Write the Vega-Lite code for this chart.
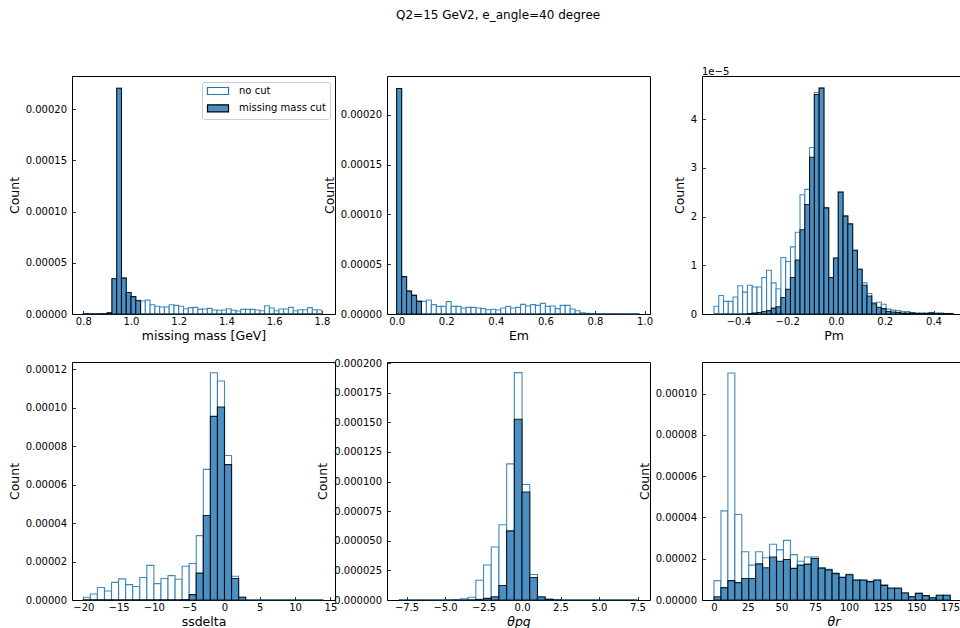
{
  "$schema": "https://vega.github.io/schema/vega-lite/v6.json",
  "padding": {"left": 7, "top": 8, "right": 0, "bottom": 0},
  "title": {"text": "Q2=15 GeV2, e_angle=40 degree", "anchor": "start", "frame": "group", "dx": 324, "offset": 45, "fontSize": 12, "fontWeight": "normal", "font": "DejaVu Sans", "color": "#000"},
  "config": {
    "font": "DejaVu Sans",
    "view": {"stroke": "#000", "strokeWidth": 1},
    "axis": {"domain": false, "grid": false, "ticks": true, "tickColor": "#000", "tickWidth": 0.8, "tickSize": -3.5, "labelFontSize": 10, "labelColor": "#000", "labelFont": "DejaVu Sans", "titleFont": "DejaVu Sans", "titleFontSize": 12.5, "titleFontWeight": "normal", "titleColor": "#000", "labelFlush": false, "labelOverlap": false},
    "axisX": {"labelPadding": 6, "titlePadding": 3},
    "axisY": {"labelPadding": 9, "titlePadding": 4}
  },
  "datasets": {
    "mm": [
      {"x0": 0.80, "x1": 0.82, "no cut": 2e-7, "missing mass cut": 2e-7},
      {"x0": 0.82, "x1": 0.84, "no cut": 1e-7, "missing mass cut": 1e-7},
      {"x0": 0.84, "x1": 0.86, "no cut": 1e-7, "missing mass cut": 1e-7},
      {"x0": 0.86, "x1": 0.88, "no cut": 2e-7, "missing mass cut": 2e-7},
      {"x0": 0.88, "x1": 0.90, "no cut": 3e-7, "missing mass cut": 3e-7},
      {"x0": 0.90, "x1": 0.92, "no cut": 1.2e-6, "missing mass cut": 1.1e-6},
      {"x0": 0.92, "x1": 0.94, "no cut": 3.44e-5, "missing mass cut": 3.44e-5},
      {"x0": 0.94, "x1": 0.96, "no cut": 2.205e-4, "missing mass cut": 2.205e-4},
      {"x0": 0.96, "x1": 0.98, "no cut": 3.5e-5, "missing mass cut": 3.5e-5},
      {"x0": 0.98, "x1": 1.00, "no cut": 2.1e-5, "missing mass cut": 2.1e-5},
      {"x0": 1.00, "x1": 1.02, "no cut": 1.7e-5, "missing mass cut": 1.7e-5},
      {"x0": 1.02, "x1": 1.04, "no cut": 1.33e-5, "missing mass cut": 1.3e-5},
      {"x0": 1.04, "x1": 1.06, "no cut": 1.27e-5, "missing mass cut": 0},
      {"x0": 1.06, "x1": 1.08, "no cut": 1.36e-5, "missing mass cut": 0},
      {"x0": 1.08, "x1": 1.10, "no cut": 9.1e-6, "missing mass cut": 0},
      {"x0": 1.10, "x1": 1.12, "no cut": 7.5e-6, "missing mass cut": 0},
      {"x0": 1.12, "x1": 1.14, "no cut": 6.8e-6, "missing mass cut": 0},
      {"x0": 1.14, "x1": 1.16, "no cut": 6.8e-6, "missing mass cut": 0},
      {"x0": 1.16, "x1": 1.18, "no cut": 9.1e-6, "missing mass cut": 0},
      {"x0": 1.18, "x1": 1.20, "no cut": 8.4e-6, "missing mass cut": 0},
      {"x0": 1.20, "x1": 1.22, "no cut": 7.5e-6, "missing mass cut": 0},
      {"x0": 1.22, "x1": 1.24, "no cut": 5.2e-6, "missing mass cut": 0},
      {"x0": 1.24, "x1": 1.26, "no cut": 6.2e-6, "missing mass cut": 0},
      {"x0": 1.26, "x1": 1.28, "no cut": 6.5e-6, "missing mass cut": 0},
      {"x0": 1.28, "x1": 1.30, "no cut": 4.5e-6, "missing mass cut": 0},
      {"x0": 1.30, "x1": 1.32, "no cut": 4.9e-6, "missing mass cut": 0},
      {"x0": 1.32, "x1": 1.34, "no cut": 5.5e-6, "missing mass cut": 0},
      {"x0": 1.34, "x1": 1.36, "no cut": 3.9e-6, "missing mass cut": 0},
      {"x0": 1.36, "x1": 1.38, "no cut": 3.6e-6, "missing mass cut": 0},
      {"x0": 1.38, "x1": 1.40, "no cut": 3.9e-6, "missing mass cut": 0},
      {"x0": 1.40, "x1": 1.42, "no cut": 5.2e-6, "missing mass cut": 0},
      {"x0": 1.42, "x1": 1.44, "no cut": 3.6e-6, "missing mass cut": 0},
      {"x0": 1.44, "x1": 1.46, "no cut": 2.9e-6, "missing mass cut": 0},
      {"x0": 1.46, "x1": 1.48, "no cut": 4.5e-6, "missing mass cut": 0},
      {"x0": 1.48, "x1": 1.50, "no cut": 4.5e-6, "missing mass cut": 0},
      {"x0": 1.50, "x1": 1.52, "no cut": 4.5e-6, "missing mass cut": 0},
      {"x0": 1.52, "x1": 1.54, "no cut": 3.9e-6, "missing mass cut": 0},
      {"x0": 1.54, "x1": 1.56, "no cut": 3.2e-6, "missing mass cut": 0},
      {"x0": 1.56, "x1": 1.58, "no cut": 8.1e-6, "missing mass cut": 0},
      {"x0": 1.58, "x1": 1.60, "no cut": 5.8e-6, "missing mass cut": 0},
      {"x0": 1.60, "x1": 1.62, "no cut": 3.2e-6, "missing mass cut": 0},
      {"x0": 1.62, "x1": 1.64, "no cut": 4.9e-6, "missing mass cut": 0},
      {"x0": 1.64, "x1": 1.66, "no cut": 4.9e-6, "missing mass cut": 0},
      {"x0": 1.66, "x1": 1.68, "no cut": 6.5e-6, "missing mass cut": 0},
      {"x0": 1.68, "x1": 1.70, "no cut": 3.2e-6, "missing mass cut": 0},
      {"x0": 1.70, "x1": 1.72, "no cut": 4.2e-6, "missing mass cut": 0},
      {"x0": 1.72, "x1": 1.74, "no cut": 4.2e-6, "missing mass cut": 0},
      {"x0": 1.74, "x1": 1.76, "no cut": 6.2e-6, "missing mass cut": 0},
      {"x0": 1.76, "x1": 1.78, "no cut": 4.2e-6, "missing mass cut": 0},
      {"x0": 1.78, "x1": 1.80, "no cut": 3.9e-6, "missing mass cut": 0}
    ],
    "em": [
      {"x0": 0.00, "x1": 0.02, "no cut": 2.265e-4, "missing mass cut": 2.265e-4},
      {"x0": 0.02, "x1": 0.04, "no cut": 3.75e-5, "missing mass cut": 3.75e-5},
      {"x0": 0.04, "x1": 0.06, "no cut": 2.3e-5, "missing mass cut": 2.3e-5},
      {"x0": 0.06, "x1": 0.08, "no cut": 1.87e-5, "missing mass cut": 1.87e-5},
      {"x0": 0.08, "x1": 0.10, "no cut": 1.3e-5, "missing mass cut": 1.27e-5},
      {"x0": 0.10, "x1": 0.12, "no cut": 1.27e-5, "missing mass cut": 0},
      {"x0": 0.12, "x1": 0.14, "no cut": 1.4e-5, "missing mass cut": 0},
      {"x0": 0.14, "x1": 0.16, "no cut": 9.4e-6, "missing mass cut": 0},
      {"x0": 0.16, "x1": 0.18, "no cut": 7.7e-6, "missing mass cut": 0},
      {"x0": 0.18, "x1": 0.20, "no cut": 7.7e-6, "missing mass cut": 0},
      {"x0": 0.20, "x1": 0.22, "no cut": 1.24e-5, "missing mass cut": 0},
      {"x0": 0.22, "x1": 0.24, "no cut": 7.7e-6, "missing mass cut": 0},
      {"x0": 0.24, "x1": 0.26, "no cut": 7.7e-6, "missing mass cut": 0},
      {"x0": 0.26, "x1": 0.28, "no cut": 6.0e-6, "missing mass cut": 0},
      {"x0": 0.28, "x1": 0.30, "no cut": 6.7e-6, "missing mass cut": 0},
      {"x0": 0.30, "x1": 0.32, "no cut": 6.7e-6, "missing mass cut": 0},
      {"x0": 0.32, "x1": 0.34, "no cut": 6.0e-6, "missing mass cut": 0},
      {"x0": 0.34, "x1": 0.36, "no cut": 5.4e-6, "missing mass cut": 0},
      {"x0": 0.36, "x1": 0.38, "no cut": 4.3e-6, "missing mass cut": 0},
      {"x0": 0.38, "x1": 0.40, "no cut": 4.7e-6, "missing mass cut": 0},
      {"x0": 0.40, "x1": 0.42, "no cut": 4.0e-6, "missing mass cut": 0},
      {"x0": 0.42, "x1": 0.44, "no cut": 6.0e-6, "missing mass cut": 0},
      {"x0": 0.44, "x1": 0.46, "no cut": 7.7e-6, "missing mass cut": 0},
      {"x0": 0.46, "x1": 0.48, "no cut": 6.0e-6, "missing mass cut": 0},
      {"x0": 0.48, "x1": 0.50, "no cut": 6.7e-6, "missing mass cut": 0},
      {"x0": 0.50, "x1": 0.52, "no cut": 9.7e-6, "missing mass cut": 0},
      {"x0": 0.52, "x1": 0.54, "no cut": 8.0e-6, "missing mass cut": 0},
      {"x0": 0.54, "x1": 0.56, "no cut": 9.4e-6, "missing mass cut": 0},
      {"x0": 0.56, "x1": 0.58, "no cut": 8.7e-6, "missing mass cut": 0},
      {"x0": 0.58, "x1": 0.60, "no cut": 1.07e-5, "missing mass cut": 0},
      {"x0": 0.60, "x1": 0.62, "no cut": 7.7e-6, "missing mass cut": 0},
      {"x0": 0.62, "x1": 0.64, "no cut": 8.0e-6, "missing mass cut": 0},
      {"x0": 0.64, "x1": 0.66, "no cut": 5.4e-6, "missing mass cut": 0},
      {"x0": 0.66, "x1": 0.68, "no cut": 8.7e-6, "missing mass cut": 0},
      {"x0": 0.68, "x1": 0.70, "no cut": 8.7e-6, "missing mass cut": 0},
      {"x0": 0.70, "x1": 0.72, "no cut": 5.0e-6, "missing mass cut": 0},
      {"x0": 0.72, "x1": 0.74, "no cut": 3.3e-6, "missing mass cut": 0},
      {"x0": 0.74, "x1": 0.76, "no cut": 1.3e-6, "missing mass cut": 0},
      {"x0": 0.76, "x1": 0.78, "no cut": 7e-7, "missing mass cut": 0},
      {"x0": 0.78, "x1": 0.80, "no cut": 3e-7, "missing mass cut": 0},
      {"x0": 0.80, "x1": 0.82, "no cut": 2e-7, "missing mass cut": 0},
      {"x0": 0.82, "x1": 0.84, "no cut": 2e-7, "missing mass cut": 0},
      {"x0": 0.84, "x1": 0.86, "no cut": 1e-7, "missing mass cut": 0},
      {"x0": 0.86, "x1": 0.88, "no cut": 1e-7, "missing mass cut": 0},
      {"x0": 0.88, "x1": 0.90, "no cut": 1e-7, "missing mass cut": 0},
      {"x0": 0.90, "x1": 0.92, "no cut": 1e-7, "missing mass cut": 0},
      {"x0": 0.92, "x1": 0.94, "no cut": 1e-7, "missing mass cut": 0},
      {"x0": 0.94, "x1": 0.96, "no cut": 5e-8, "missing mass cut": 0},
      {"x0": 0.96, "x1": 0.98, "no cut": 5e-8, "missing mass cut": 0}
    ],
    "pm": [
      {"x0": -0.5, "x1": -0.4804, "no cut": 1.6e-6, "missing mass cut": 0},
      {"x0": -0.4804, "x1": -0.4608, "no cut": 3.8e-6, "missing mass cut": 0},
      {"x0": -0.4608, "x1": -0.4412, "no cut": 2.6e-6, "missing mass cut": 0},
      {"x0": -0.4412, "x1": -0.4216, "no cut": 2.6e-6, "missing mass cut": 0},
      {"x0": -0.4216, "x1": -0.402, "no cut": 3.5e-6, "missing mass cut": 0},
      {"x0": -0.402, "x1": -0.3824, "no cut": 5.8e-6, "missing mass cut": 0},
      {"x0": -0.3824, "x1": -0.3628, "no cut": 4.5e-6, "missing mass cut": 0},
      {"x0": -0.3628, "x1": -0.3432, "no cut": 5.9e-6, "missing mass cut": 1e-7},
      {"x0": -0.3432, "x1": -0.3236, "no cut": 5.55e-6, "missing mass cut": 2e-7},
      {"x0": -0.3236, "x1": -0.304, "no cut": 5.55e-6, "missing mass cut": 3e-7},
      {"x0": -0.304, "x1": -0.2844, "no cut": 7.5e-6, "missing mass cut": 5e-7},
      {"x0": -0.2844, "x1": -0.2648, "no cut": 9.0e-6, "missing mass cut": 7e-7},
      {"x0": -0.2648, "x1": -0.2452, "no cut": 6.4e-6, "missing mass cut": 1.2e-6},
      {"x0": -0.2452, "x1": -0.2256, "no cut": 5.2e-6, "missing mass cut": 1.5e-6},
      {"x0": -0.2256, "x1": -0.206, "no cut": 1.16e-5, "missing mass cut": 3.4e-6},
      {"x0": -0.206, "x1": -0.1864, "no cut": 1.08e-5, "missing mass cut": 5.1e-6},
      {"x0": -0.1864, "x1": -0.1668, "no cut": 1.38e-5, "missing mass cut": 7.5e-6},
      {"x0": -0.1668, "x1": -0.1472, "no cut": 1.68e-5, "missing mass cut": 1.11e-5},
      {"x0": -0.1472, "x1": -0.1276, "no cut": 2.45e-5, "missing mass cut": 1.73e-5},
      {"x0": -0.1276, "x1": -0.108, "no cut": 2.56e-5, "missing mass cut": 2.25e-5},
      {"x0": -0.108, "x1": -0.0884, "no cut": 3.42e-5, "missing mass cut": 3.22e-5},
      {"x0": -0.0884, "x1": -0.0688, "no cut": 4.55e-5, "missing mass cut": 4.51e-5},
      {"x0": -0.0688, "x1": -0.0492, "no cut": 4.64e-5, "missing mass cut": 4.64e-5},
      {"x0": -0.0492, "x1": -0.0296, "no cut": 2.18e-5, "missing mass cut": 2.18e-5},
      {"x0": -0.0296, "x1": -0.01, "no cut": 7.5e-6, "missing mass cut": 7.5e-6},
      {"x0": -0.01, "x1": 0.0096, "no cut": 1.15e-5, "missing mass cut": 1.15e-5},
      {"x0": 0.0096, "x1": 0.0292, "no cut": 2.51e-5, "missing mass cut": 2.5e-5},
      {"x0": 0.0292, "x1": 0.0488, "no cut": 2.02e-5, "missing mass cut": 2.01e-5},
      {"x0": 0.0488, "x1": 0.0684, "no cut": 1.86e-5, "missing mass cut": 1.85e-5},
      {"x0": 0.0684, "x1": 0.088, "no cut": 1.31e-5, "missing mass cut": 1.31e-5},
      {"x0": 0.088, "x1": 0.1076, "no cut": 9.2e-6, "missing mass cut": 9.2e-6},
      {"x0": 0.1076, "x1": 0.1272, "no cut": 6.4e-6, "missing mass cut": 5.9e-6},
      {"x0": 0.1272, "x1": 0.1468, "no cut": 4.2e-6, "missing mass cut": 3.7e-6},
      {"x0": 0.1468, "x1": 0.1664, "no cut": 2.3e-6, "missing mass cut": 2.1e-6},
      {"x0": 0.1664, "x1": 0.186, "no cut": 2.4e-6, "missing mass cut": 1.4e-6},
      {"x0": 0.186, "x1": 0.2056, "no cut": 2.0e-6, "missing mass cut": 1.1e-6},
      {"x0": 0.2056, "x1": 0.2252, "no cut": 1.0e-6, "missing mass cut": 5e-7},
      {"x0": 0.2252, "x1": 0.2448, "no cut": 8e-7, "missing mass cut": 4e-7},
      {"x0": 0.2448, "x1": 0.2644, "no cut": 7e-7, "missing mass cut": 3e-7},
      {"x0": 0.2644, "x1": 0.284, "no cut": 5e-7, "missing mass cut": 2e-7},
      {"x0": 0.284, "x1": 0.3036, "no cut": 5e-7, "missing mass cut": 2e-7},
      {"x0": 0.3036, "x1": 0.3232, "no cut": 3e-7, "missing mass cut": 2e-7},
      {"x0": 0.3232, "x1": 0.3428, "no cut": 2e-7, "missing mass cut": 1e-7},
      {"x0": 0.3428, "x1": 0.3624, "no cut": 2e-7, "missing mass cut": 1e-7},
      {"x0": 0.3624, "x1": 0.382, "no cut": 2e-7, "missing mass cut": 1e-7},
      {"x0": 0.382, "x1": 0.4016, "no cut": 3e-7, "missing mass cut": 2e-7},
      {"x0": 0.4016, "x1": 0.4212, "no cut": 2e-7, "missing mass cut": 1e-7},
      {"x0": 0.4212, "x1": 0.4408, "no cut": 2e-7, "missing mass cut": 1e-7},
      {"x0": 0.4408, "x1": 0.4604, "no cut": 1e-7, "missing mass cut": 1e-7},
      {"x0": 0.4604, "x1": 0.48, "no cut": 1e-7, "missing mass cut": 1e-7}
    ],
    "ss": [
      {"x0": -20, "x1": -19, "no cut": 1.4e-6, "missing mass cut": 1e-7},
      {"x0": -19, "x1": -18, "no cut": 3.1e-6, "missing mass cut": 1e-7},
      {"x0": -18, "x1": -17, "no cut": 6.5e-6, "missing mass cut": 1e-7},
      {"x0": -17, "x1": -16, "no cut": 4.7e-6, "missing mass cut": 1e-7},
      {"x0": -16, "x1": -15, "no cut": 9.2e-6, "missing mass cut": 1e-7},
      {"x0": -15, "x1": -14, "no cut": 1.1e-5, "missing mass cut": 1e-7},
      {"x0": -14, "x1": -13, "no cut": 8.0e-6, "missing mass cut": 1e-7},
      {"x0": -13, "x1": -12, "no cut": 7.0e-6, "missing mass cut": 1e-7},
      {"x0": -12, "x1": -11, "no cut": 1.17e-5, "missing mass cut": 1e-7},
      {"x0": -11, "x1": -10, "no cut": 1.8e-5, "missing mass cut": 1e-7},
      {"x0": -10, "x1": -9, "no cut": 8.5e-6, "missing mass cut": 1e-7},
      {"x0": -9, "x1": -8, "no cut": 1.12e-5, "missing mass cut": 1e-7},
      {"x0": -8, "x1": -7, "no cut": 1.27e-5, "missing mass cut": 1e-7},
      {"x0": -7, "x1": -6, "no cut": 1.08e-5, "missing mass cut": 1e-7},
      {"x0": -6, "x1": -5, "no cut": 1.76e-5, "missing mass cut": 2e-7},
      {"x0": -5, "x1": -4, "no cut": 1.9e-5, "missing mass cut": 2.8e-6},
      {"x0": -4, "x1": -3, "no cut": 3.35e-5, "missing mass cut": 1.4e-5},
      {"x0": -3, "x1": -2, "no cut": 6.8e-5, "missing mass cut": 4.4e-5},
      {"x0": -2, "x1": -1, "no cut": 1.183e-4, "missing mass cut": 9.56e-5},
      {"x0": -1, "x1": 0, "no cut": 1.14e-4, "missing mass cut": 1.005e-4},
      {"x0": 0, "x1": 1, "no cut": 7.52e-5, "missing mass cut": 7.05e-5},
      {"x0": 1, "x1": 2, "no cut": 1.24e-5, "missing mass cut": 1.12e-5},
      {"x0": 2, "x1": 3, "no cut": 1.4e-6, "missing mass cut": 1.4e-6},
      {"x0": 3, "x1": 4, "no cut": 0, "missing mass cut": 0},
      {"x0": 4, "x1": 5, "no cut": 0, "missing mass cut": 0},
      {"x0": 5, "x1": 6, "no cut": 0, "missing mass cut": 0},
      {"x0": 6, "x1": 7, "no cut": 0, "missing mass cut": 0},
      {"x0": 7, "x1": 8, "no cut": 0, "missing mass cut": 0},
      {"x0": 8, "x1": 9, "no cut": 0, "missing mass cut": 0},
      {"x0": 9, "x1": 10, "no cut": 0, "missing mass cut": 0},
      {"x0": 10, "x1": 11, "no cut": 0, "missing mass cut": 0},
      {"x0": 11, "x1": 12, "no cut": 0, "missing mass cut": 0},
      {"x0": 12, "x1": 13, "no cut": 0, "missing mass cut": 0},
      {"x0": 13, "x1": 14, "no cut": 0, "missing mass cut": 0}
    ],
    "pq": [
      {"x0": -8.0, "x1": -7.5, "no cut": 0, "missing mass cut": 0},
      {"x0": -7.5, "x1": -7.0, "no cut": 0, "missing mass cut": 0},
      {"x0": -7.0, "x1": -6.5, "no cut": 0, "missing mass cut": 0},
      {"x0": -6.5, "x1": -6.0, "no cut": 0, "missing mass cut": 0},
      {"x0": -6.0, "x1": -5.5, "no cut": 0, "missing mass cut": 0},
      {"x0": -5.5, "x1": -5.0, "no cut": 0, "missing mass cut": 0},
      {"x0": -5.0, "x1": -4.5, "no cut": 1e-7, "missing mass cut": 0},
      {"x0": -4.5, "x1": -4.0, "no cut": 3e-7, "missing mass cut": 0},
      {"x0": -4.0, "x1": -3.5, "no cut": 1.0e-6, "missing mass cut": 0},
      {"x0": -3.5, "x1": -3.0, "no cut": 2.3e-6, "missing mass cut": 1e-7},
      {"x0": -3.0, "x1": -2.5, "no cut": 1.67e-5, "missing mass cut": 5e-7},
      {"x0": -2.5, "x1": -2.0, "no cut": 2.95e-5, "missing mass cut": 1.4e-6},
      {"x0": -2.0, "x1": -1.5, "no cut": 4.48e-5, "missing mass cut": 2.8e-6},
      {"x0": -1.5, "x1": -1.0, "no cut": 6.35e-5, "missing mass cut": 1.22e-5},
      {"x0": -1.0, "x1": -0.5, "no cut": 1.15e-4, "missing mass cut": 5.84e-5},
      {"x0": -0.5, "x1": 0.0, "no cut": 1.92e-4, "missing mass cut": 1.527e-4},
      {"x0": 0.0, "x1": 0.5, "no cut": 9.75e-5, "missing mass cut": 9.12e-5},
      {"x0": 0.5, "x1": 1.0, "no cut": 2.15e-5, "missing mass cut": 1.9e-5},
      {"x0": 1.0, "x1": 1.5, "no cut": 2.8e-6, "missing mass cut": 2.5e-6},
      {"x0": 1.5, "x1": 2.0, "no cut": 8e-7, "missing mass cut": 5e-7},
      {"x0": 2.0, "x1": 2.5, "no cut": 2e-7, "missing mass cut": 1e-7},
      {"x0": 2.5, "x1": 3.0, "no cut": 0, "missing mass cut": 0},
      {"x0": 3.0, "x1": 3.5, "no cut": 0, "missing mass cut": 0},
      {"x0": 3.5, "x1": 4.0, "no cut": 0, "missing mass cut": 0},
      {"x0": 4.0, "x1": 4.5, "no cut": 0, "missing mass cut": 0},
      {"x0": 4.5, "x1": 5.0, "no cut": 0, "missing mass cut": 0},
      {"x0": 5.0, "x1": 5.5, "no cut": 0, "missing mass cut": 0},
      {"x0": 5.5, "x1": 6.0, "no cut": 0, "missing mass cut": 0},
      {"x0": 6.0, "x1": 6.5, "no cut": 0, "missing mass cut": 0},
      {"x0": 6.5, "x1": 7.0, "no cut": 0, "missing mass cut": 0},
      {"x0": 7.0, "x1": 7.5, "no cut": 0, "missing mass cut": 0}
    ],
    "tr": [
      {"x0": 0, "x1": 5.147, "no cut": 9.4e-6, "missing mass cut": 1.6e-6},
      {"x0": 5.147, "x1": 10.294, "no cut": 4.32e-5, "missing mass cut": 6.0e-6},
      {"x0": 10.294, "x1": 15.441, "no cut": 1.10e-4, "missing mass cut": 9.4e-6},
      {"x0": 15.441, "x1": 20.588, "no cut": 4.14e-5, "missing mass cut": 8.4e-6},
      {"x0": 20.588, "x1": 25.735, "no cut": 2.34e-5, "missing mass cut": 1.04e-5},
      {"x0": 25.735, "x1": 30.882, "no cut": 1.69e-5, "missing mass cut": 1.04e-5},
      {"x0": 30.882, "x1": 36.029, "no cut": 2.34e-5, "missing mass cut": 1.75e-5},
      {"x0": 36.029, "x1": 41.176, "no cut": 2.05e-5, "missing mass cut": 1.56e-5},
      {"x0": 41.176, "x1": 46.324, "no cut": 2.7e-5, "missing mass cut": 2.08e-5},
      {"x0": 46.324, "x1": 51.471, "no cut": 2.43e-5, "missing mass cut": 1.88e-5},
      {"x0": 51.471, "x1": 56.618, "no cut": 2.89e-5, "missing mass cut": 1.96e-5},
      {"x0": 56.618, "x1": 61.765, "no cut": 2.2e-5, "missing mass cut": 1.53e-5},
      {"x0": 61.765, "x1": 66.912, "no cut": 1.88e-5, "missing mass cut": 1.69e-5},
      {"x0": 66.912, "x1": 72.059, "no cut": 2.08e-5, "missing mass cut": 1.74e-5},
      {"x0": 72.059, "x1": 77.206, "no cut": 2.08e-5, "missing mass cut": 2.01e-5},
      {"x0": 77.206, "x1": 82.353, "no cut": 1.57e-5, "missing mass cut": 1.54e-5},
      {"x0": 82.353, "x1": 87.5, "no cut": 1.49e-5, "missing mass cut": 1.46e-5},
      {"x0": 87.5, "x1": 92.647, "no cut": 1.3e-5, "missing mass cut": 1.28e-5},
      {"x0": 92.647, "x1": 97.794, "no cut": 1.11e-5, "missing mass cut": 1.09e-5},
      {"x0": 97.794, "x1": 102.941, "no cut": 1.24e-5, "missing mass cut": 1.22e-5},
      {"x0": 102.941, "x1": 108.088, "no cut": 9.8e-6, "missing mass cut": 9.6e-6},
      {"x0": 108.088, "x1": 113.235, "no cut": 9.8e-6, "missing mass cut": 9.6e-6},
      {"x0": 113.235, "x1": 118.382, "no cut": 9.1e-6, "missing mass cut": 8.9e-6},
      {"x0": 118.382, "x1": 123.529, "no cut": 9.8e-6, "missing mass cut": 9.6e-6},
      {"x0": 123.529, "x1": 128.676, "no cut": 7.3e-6, "missing mass cut": 7.1e-6},
      {"x0": 128.676, "x1": 133.824, "no cut": 5.8e-6, "missing mass cut": 5.7e-6},
      {"x0": 133.824, "x1": 138.971, "no cut": 5.8e-6, "missing mass cut": 5.7e-6},
      {"x0": 138.971, "x1": 144.118, "no cut": 3.5e-6, "missing mass cut": 3.4e-6},
      {"x0": 144.118, "x1": 149.265, "no cut": 1.7e-6, "missing mass cut": 1.6e-6},
      {"x0": 149.265, "x1": 154.412, "no cut": 3.3e-6, "missing mass cut": 3.2e-6},
      {"x0": 154.412, "x1": 159.559, "no cut": 2.2e-6, "missing mass cut": 2.1e-6},
      {"x0": 159.559, "x1": 164.706, "no cut": 1.1e-6, "missing mass cut": 1.1e-6},
      {"x0": 164.706, "x1": 169.853, "no cut": 2.3e-6, "missing mass cut": 2.3e-6},
      {"x0": 169.853, "x1": 175, "no cut": 2.3e-6, "missing mass cut": 2.3e-6}
    ]
  },
  "resolve": {"scale": {"fill": "independent", "stroke": "independent"}, "legend": {"fill": "independent", "stroke": "independent"}},
  "columns": 3,
  "spacing": {"row": 48, "column": 52},
  "bounds": "flush",
  "concat": [
    {
      "width": 263, "height": 238,
      "data": {"name": "mm"},
      "transform": [{"fold": ["no cut", "missing mass cut"], "as": ["key", "v"]}],
      "mark": {"type": "rect", "strokeWidth": 1.1, "strokeOpacity": 0.85},
      "encoding": {
        "x": {"field": "x0", "type": "quantitative", "scale": {"domain": [0.7526, 1.855], "nice": false, "zero": false}, "axis": {"title": "missing mass [GeV]", "values": [0.8, 1.0, 1.2, 1.4, 1.6, 1.8], "format": ".1f"}},
        "x2": {"field": "x1"},
        "y": {"field": "v", "type": "quantitative", "scale": {"domain": [0, 0.0002325], "nice": false}, "axis": {"title": "Count", "values": [0, 0.00005, 0.0001, 0.00015, 0.0002], "format": ".5f"}},
        "y2": {"datum": 0},
        "fill": {"field": "key", "type": "nominal", "scale": {"domain": ["no cut", "missing mass cut"], "range": ["#ffffff", "#4c8fc2"]},
          "legend": {"title": null, "orient": "top-right", "offset": 5.5, "symbolType": "M-3,-1H3V1H-3Z", "symbolSize": 49, "symbolOffset": 7, "symbolStrokeWidth": 1.2, "labelOffset": 16, "labelFontSize": 10, "labelFont": "DejaVu Sans", "labelColor": "#000", "rowPadding": 5.3, "padding": 4, "strokeColor": "#cccccc", "fillColor": "rgba(255,255,255,0.8)", "cornerRadius": 2, "labelLimit": 300}},
        "stroke": {"field": "key", "type": "nominal", "scale": {"domain": ["no cut", "missing mass cut"], "range": ["#1f77b4", "#000000"]},
          "legend": {"title": null, "orient": "top-right", "offset": 5.5, "symbolType": "M-3,-1H3V1H-3Z", "symbolSize": 49, "symbolOffset": 7, "symbolStrokeWidth": 1.2, "labelOffset": 16, "labelFontSize": 10, "labelFont": "DejaVu Sans", "labelColor": "#000", "rowPadding": 5.3, "padding": 4, "strokeColor": "#cccccc", "fillColor": "rgba(255,255,255,0.8)", "cornerRadius": 2, "labelLimit": 300}},
        "order": {"field": "key", "sort": "descending"}
      }
    },
    {
      "width": 263, "height": 238,
      "data": {"name": "em"},
      "transform": [{"fold": ["no cut", "missing mass cut"], "as": ["key", "v"]}],
      "mark": {"type": "rect", "strokeWidth": 1.1, "strokeOpacity": 0.85},
      "encoding": {
        "x": {"field": "x0", "type": "quantitative", "scale": {"domain": [-0.039, 1.022], "nice": false, "zero": false}, "axis": {"title": "Em", "values": [0, 0.2, 0.4, 0.6, 0.8, 1.0], "format": ".1f"}},
        "x2": {"field": "x1"},
        "y": {"field": "v", "type": "quantitative", "scale": {"domain": [0, 0.000239], "nice": false}, "axis": {"title": "Count", "values": [0, 0.00005, 0.0001, 0.00015, 0.0002], "format": ".5f"}},
        "y2": {"datum": 0},
        "fill": {"field": "key", "type": "nominal", "scale": {"domain": ["no cut", "missing mass cut"], "range": ["#ffffff", "#4c8fc2"]}, "legend": null},
        "stroke": {"field": "key", "type": "nominal", "scale": {"domain": ["no cut", "missing mass cut"], "range": ["#1f77b4", "#000000"]}, "legend": null},
        "order": {"field": "key", "sort": "descending"}
      }
    },
    {
      "width": 263, "height": 238,
      "title": {"text": "1e−5", "anchor": "start", "frame": "group", "fontSize": 10, "fontWeight": "normal", "offset": -1, "font": "DejaVu Sans", "color": "#000"},
      "data": {"name": "pm"},
      "transform": [{"fold": ["no cut", "missing mass cut"], "as": ["key", "v"]}],
      "mark": {"type": "rect", "strokeWidth": 1.1, "strokeOpacity": 0.85},
      "encoding": {
        "x": {"field": "x0", "type": "quantitative", "scale": {"domain": [-0.549, 0.529], "nice": false, "zero": false}, "axis": {"title": "Pm", "values": [-0.4, -0.2, 0, 0.2, 0.4], "format": ".1f"}},
        "x2": {"field": "x1"},
        "y": {"field": "v", "type": "quantitative", "scale": {"domain": [0, 0.0000489], "nice": false}, "axis": {"title": "Count", "values": [0, 0.00001, 0.00002, 0.00003, 0.00004], "labelExpr": "'' + round(datum.value * 100000)"}},
        "y2": {"datum": 0},
        "fill": {"field": "key", "type": "nominal", "scale": {"domain": ["no cut", "missing mass cut"], "range": ["#ffffff", "#4c8fc2"]}, "legend": null},
        "stroke": {"field": "key", "type": "nominal", "scale": {"domain": ["no cut", "missing mass cut"], "range": ["#1f77b4", "#000000"]}, "legend": null},
        "order": {"field": "key", "sort": "descending"}
      }
    },
    {
      "width": 263, "height": 238,
      "data": {"name": "ss"},
      "transform": [{"fold": ["no cut", "missing mass cut"], "as": ["key", "v"]}],
      "mark": {"type": "rect", "strokeWidth": 1.1, "strokeOpacity": 0.85},
      "encoding": {
        "x": {"field": "x0", "type": "quantitative", "scale": {"domain": [-21.6, 15.65], "nice": false, "zero": false}, "axis": {"title": "ssdelta", "values": [-20, -15, -10, -5, 0, 5, 10, 15], "format": "d"}},
        "x2": {"field": "x1"},
        "y": {"field": "v", "type": "quantitative", "scale": {"domain": [0, 0.0001239], "nice": false}, "axis": {"title": "Count", "values": [0, 0.00002, 0.00004, 0.00006, 0.00008, 0.0001, 0.00012], "format": ".5f"}},
        "y2": {"datum": 0},
        "fill": {"field": "key", "type": "nominal", "scale": {"domain": ["no cut", "missing mass cut"], "range": ["#ffffff", "#4c8fc2"]}, "legend": null},
        "stroke": {"field": "key", "type": "nominal", "scale": {"domain": ["no cut", "missing mass cut"], "range": ["#1f77b4", "#000000"]}, "legend": null},
        "order": {"field": "key", "sort": "descending"}
      }
    },
    {
      "width": 263, "height": 238,
      "data": {"name": "pq"},
      "transform": [{"fold": ["no cut", "missing mass cut"], "as": ["key", "v"]}],
      "mark": {"type": "rect", "strokeWidth": 1.1, "strokeOpacity": 0.85},
      "encoding": {
        "x": {"field": "x0", "type": "quantitative", "scale": {"domain": [-8.77, 8.31], "nice": false, "zero": false}, "axis": {"title": "θpq", "titleFontStyle": "italic", "values": [-7.5, -5, -2.5, 0, 2.5, 5, 7.5], "format": ".1f"}},
        "x2": {"field": "x1"},
        "y": {"field": "v", "type": "quantitative", "scale": {"domain": [0, 0.000201], "nice": false}, "axis": {"title": "Count", "values": [0, 0.000025, 0.00005, 0.000075, 0.0001, 0.000125, 0.00015, 0.000175, 0.0002], "format": ".6f"}},
        "y2": {"datum": 0},
        "fill": {"field": "key", "type": "nominal", "scale": {"domain": ["no cut", "missing mass cut"], "range": ["#ffffff", "#4c8fc2"]}, "legend": null},
        "stroke": {"field": "key", "type": "nominal", "scale": {"domain": ["no cut", "missing mass cut"], "range": ["#1f77b4", "#000000"]}, "legend": null},
        "order": {"field": "key", "sort": "descending"}
      }
    },
    {
      "width": 263, "height": 238,
      "data": {"name": "tr"},
      "transform": [{"fold": ["no cut", "missing mass cut"], "as": ["key", "v"]}],
      "mark": {"type": "rect", "strokeWidth": 1.1, "strokeOpacity": 0.85},
      "encoding": {
        "x": {"field": "x0", "type": "quantitative", "scale": {"domain": [-8.9, 186], "nice": false, "zero": false}, "axis": {"title": "θr", "titleFontStyle": "italic", "values": [0, 25, 50, 75, 100, 125, 150, 175], "format": "d"}},
        "x2": {"field": "x1"},
        "y": {"field": "v", "type": "quantitative", "scale": {"domain": [0, 0.0001153], "nice": false}, "axis": {"title": "Count", "values": [0, 0.00002, 0.00004, 0.00006, 0.00008, 0.0001], "format": ".5f"}},
        "y2": {"datum": 0},
        "fill": {"field": "key", "type": "nominal", "scale": {"domain": ["no cut", "missing mass cut"], "range": ["#ffffff", "#4c8fc2"]}, "legend": null},
        "stroke": {"field": "key", "type": "nominal", "scale": {"domain": ["no cut", "missing mass cut"], "range": ["#1f77b4", "#000000"]}, "legend": null},
        "order": {"field": "key", "sort": "descending"}
      }
    }
  ]
}
